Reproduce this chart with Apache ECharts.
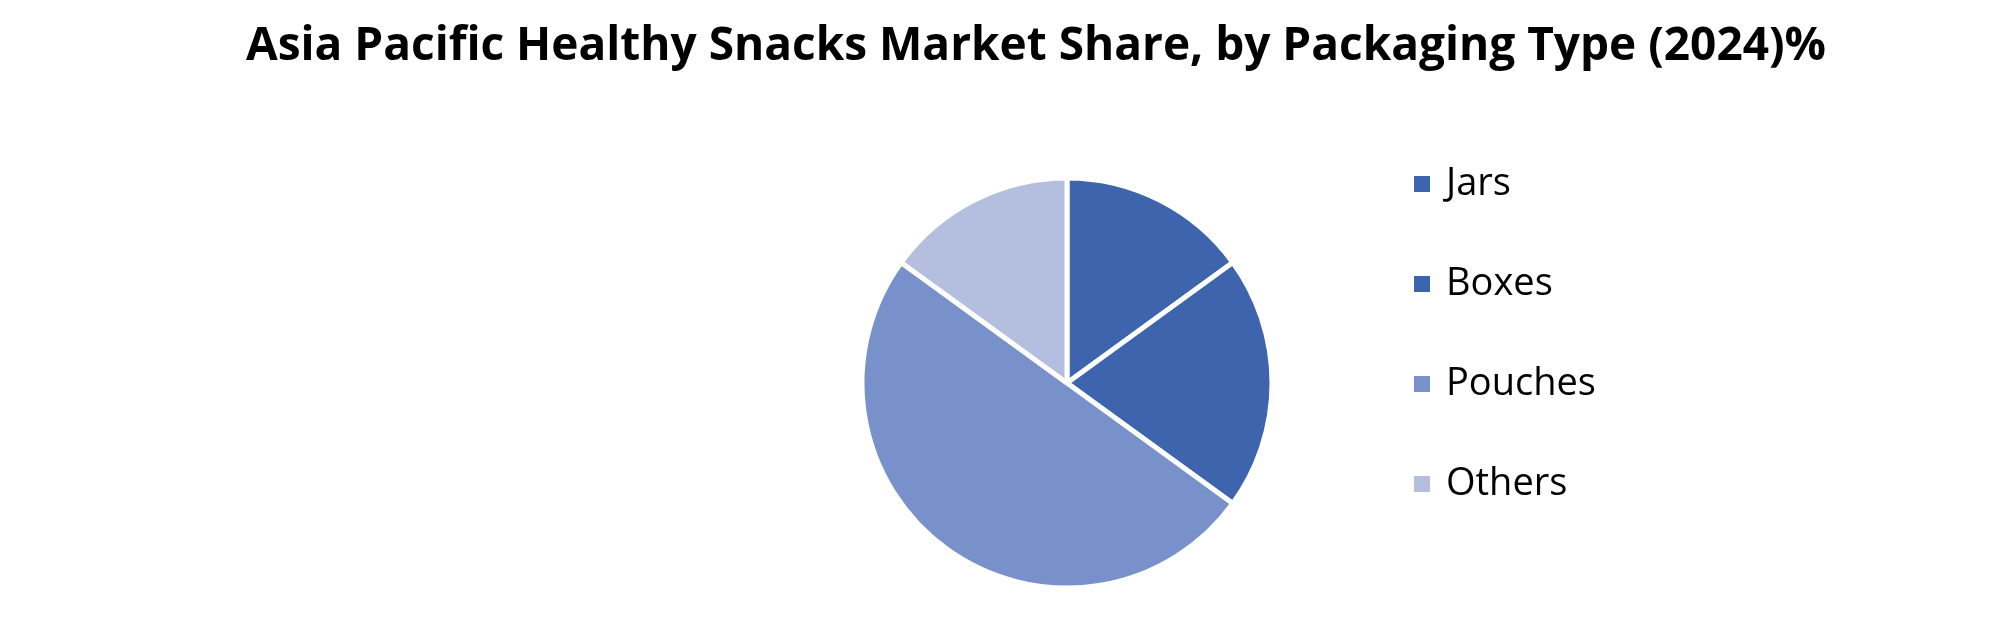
<!DOCTYPE html>
<html>
<head>
<meta charset="utf-8">
<script src="https://cdn.jsdelivr.net/npm/echarts@6/dist/echarts.min.js"></script>
<style>
  html, body { margin: 0; padding: 0; background: #fff; }
  #chart { width: 1996px; height: 625px; }
</style>
</head>
<body>
<div id="chart"></div>
<script>
// packaging types and their share (%)
const categories = ["Jars", "Boxes", "Pouches", "Others"];
const shares = [15, 20, 50, 15];
const colors = ["#3D64AC", "#3D64AC", "#7991CB", "#B4BFE0"];

const chart = echarts.init(document.getElementById("chart"));

chart.setOption({
  animation: false,
  title: {
    text: "Asia Pacific Healthy Snacks Market Share, by Packaging Type (2024)%",
    left: 1031,
    textAlign: "center",
    top: 19,
    textStyle: {
      fontFamily: "Open Sans",
      fontWeight: "bold",
      fontSize: 46,
      color: "#000"
    }
  },
  legend: {
    orient: "vertical",
    left: 1407,
    top: 157,
    icon: "rect",
    itemWidth: 18,
    itemHeight: 18,
    itemGap: 56,
    data: categories,
    textStyle: {
      fontFamily: "Open Sans",
      fontSize: 38,
      color: "#000",
      padding: [0, 0, 0, 10],
      lineHeight: 44
    }
  },
  series: [{
    type: "pie",
    center: [1067, 383],
    radius: 205,
    startAngle: 90,
    clockwise: true,
    label: { show: false },
    labelLine: { show: false },
    emphasis: { disabled: true },
    itemStyle: { borderColor: "#fff", borderWidth: 5 },
    data: categories.map((name, i) => ({
      name,
      value: shares[i],
      itemStyle: { color: colors[i] }
    }))
  }]
});
</script>
</body>
</html>
